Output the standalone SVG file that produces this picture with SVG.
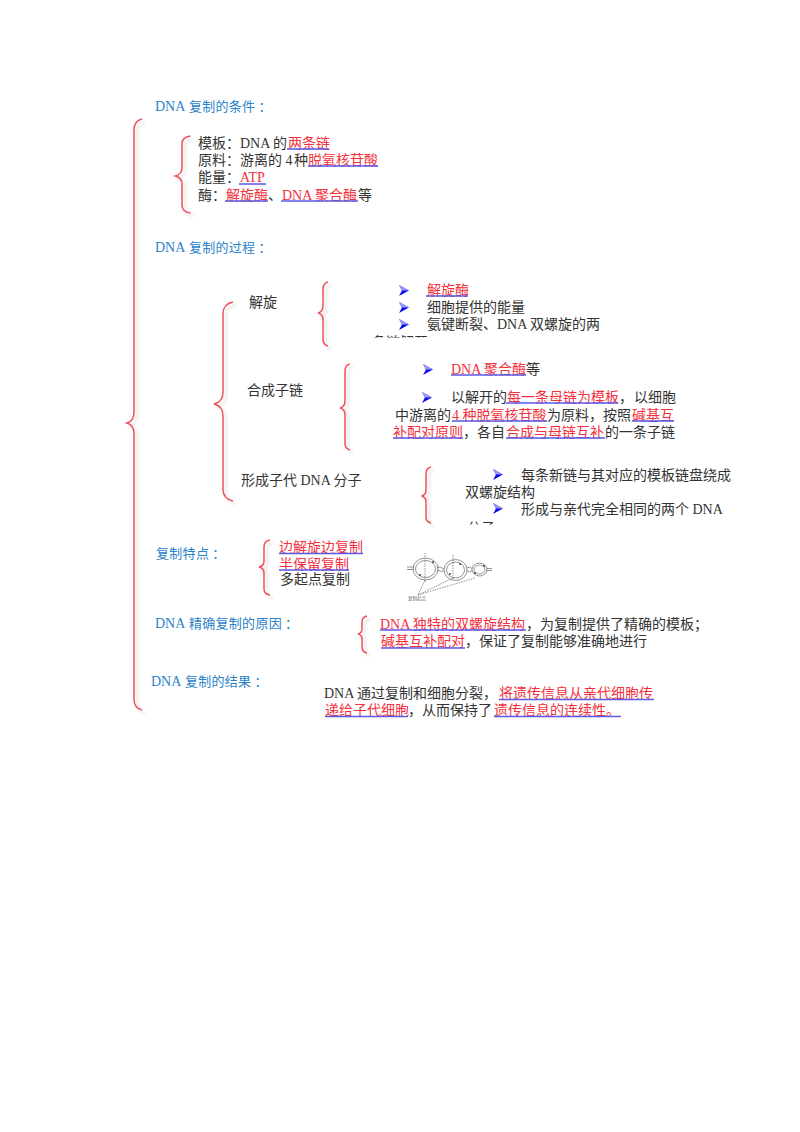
<svg xmlns="http://www.w3.org/2000/svg" xmlns:xlink="http://www.w3.org/1999/xlink" width="800" height="1132" viewBox="0 0 800 1132">
<style>
text{font-family:"Liberation Serif","Noto Sans CJK SC",serif;font-size:14px;fill:#333}
.h{font-size:13px;letter-spacing:.3px;fill:#2b82c9}
.h tspan.l{font-size:14px;letter-spacing:0}
.r{fill:#f4303c}
.k{fill:#333}
.u{stroke:#5a5ae6;stroke-width:1.3;fill:none}
.b{fill:none;stroke:#f0505a;stroke-width:1.5;filter:url(#sh)}
.p path,.p line,.p ellipse{fill:none;stroke:#666;stroke-width:.7}
.p .d{stroke-dasharray:1.5 1}
.p .f{fill:#444;stroke:none}
.p text{font-size:4.5px;fill:#666}
</style>
<defs>
<filter id="sh" x="-50%" y="-10%" width="220%" height="120%"><feDropShadow dx="3" dy="3" stdDeviation="1.8" flood-color="#999" flood-opacity=".35"/></filter>
<symbol id="ar" viewBox="0 0 9 10" overflow="visible"><path d="M0 0L9 5L0 10L2.6 5Z" fill="#0a0af0"/><path d="M0 0L9 5L2.6 5Z" fill="#9a9af5"/></symbol>
<clipPath id="c1"><rect x="360" y="325" width="80" height="12.5"/></clipPath>
<clipPath id="c2"><rect x="455" y="515" width="60" height="9.5"/></clipPath>
</defs>
<rect width="800" height="1132" fill="#fff"/>
<g id="connectors">
<path class="b" d="M142 119Q134 121 134 130V412Q134 421 127 423Q134 425 134 434V699Q134 708 142 710"/>
<path class="b" d="M190.500 136Q182 137 182 144V168Q182 174 175.500 176Q182 178 182 184V205Q182 212 190.500 213"/>
<path class="b" d="M233 302Q223 304 223 314V392Q223 402 214 404Q223 406 223 416V489Q223 499 233 501"/>
<path class="b" d="M328 282Q323 283 323 290V306Q323 312 318 313Q323 314 323 320V339Q323 345 328 346"/>
<path class="b" d="M350 364Q345 365 345 371V401Q345 407 340 408Q345 409 345 415V443Q345 449 350 450"/>
<path class="b" d="M431 467Q426 468 426 474V490Q426 495 421.500 496Q426 497 426 502V517Q426 522 431 523"/>
<path class="b" d="M270 540Q264 541 264 547V561Q264 566 259 567Q264 568 264 573V589Q264 594 270 595"/>
<path class="b" d="M367 616Q362 617 362 622V629Q362 633 358 634Q362 635 362 639V647Q362 652 367 653"/>
</g>
<g id="heading-conditions"><text class="h" x="155" y="111"><tspan class="l">DNA</tspan> 复制的条件<tspan dx="3">：</tspan></text></g>
<g id="conditions">
<text x="198" y="148">模板：<tspan x="240">DNA 的</tspan><tspan class="r" x="288">两条链</tspan></text>
<text x="198" y="165">原料：<tspan x="240">游离的 4 </tspan><tspan x="294">种</tspan><tspan class="r" x="308">脱氧核苷酸</tspan></text>
<text x="198" y="182">能量：<tspan class="r" x="240">ATP</tspan></text>
<text x="198" y="200">酶：<tspan class="r" x="226">解旋酶</tspan><tspan x="268">、</tspan><tspan class="r" x="282">DNA 聚合酶</tspan><tspan x="358">等</tspan></text>
<path class="u" d="M287 149H329M308 166H378M239 184H266M225 201H268M281 201H358"/>
</g>
<g id="heading-process"><text class="h" x="155" y="252"><tspan class="l">DNA</tspan> 复制的过程<tspan dx="3">：</tspan></text></g>
<g id="unwind">
<text x="249" y="307">解旋</text>
<use xlink:href="#ar" href="#ar" x="399" y="285" width="10" height="11"/>
<use xlink:href="#ar" href="#ar" x="399" y="302" width="10" height="11"/>
<use xlink:href="#ar" href="#ar" x="399" y="319" width="10" height="11"/>
<text class="r" x="427" y="295">解旋酶</text>
<text x="427" y="312">细胞提供的能量</text>
<text x="427" y="329">氨键断裂、DNA 双螺旋的两</text>
<text x="372" y="347" clip-path="url(#c1)">条链解开</text>
<path class="u" d="M426 296H468"/>
</g>
<g id="synthesis">
<text x="247" y="395">合成子链</text>
<use xlink:href="#ar" href="#ar" x="423" y="364" width="10" height="11"/>
<use xlink:href="#ar" href="#ar" x="422" y="392" width="10" height="11"/>
<text x="451" y="374"><tspan class="r">DNA 聚合酶</tspan><tspan x="526">等</tspan></text>
<text x="451" y="402">以解开的<tspan class="r" x="507">每一条母链为模板</tspan><tspan x="619">，</tspan><tspan x="634">以细胞</tspan></text>
<text x="395" y="420">中游离的<tspan class="r" x="452">4 种脱氧核苷酸</tspan><tspan x="547">为原料，按照</tspan><tspan class="r" x="632">碱基互</tspan></text>
<text class="r" x="393" y="437">补配对原则<tspan class="k" x="463">，各自</tspan><tspan x="506">合成与母链互补</tspan><tspan class="k" x="605">的一条子链</tspan></text>
<path class="u" d="M451 375H526M506 403H618M452 421H547M632 421H674M393 438H463M506 438H605"/>
</g>
<g id="daughter">
<text x="241" y="485">形成子代 DNA 分子</text>
<use xlink:href="#ar" href="#ar" x="493" y="469" width="10" height="11"/>
<use xlink:href="#ar" href="#ar" x="493" y="503" width="10" height="11"/>
<text x="521" y="480">每条新链与其对应的模板链盘绕成</text>
<text x="465" y="497">双螺旋结构</text>
<text x="521" y="514">形成与亲代完全相同的两个 DNA</text>
<text x="467" y="533" clip-path="url(#c2)">分子</text>
</g>
<g id="features">
<text class="h" x="156" y="558">复制特点<tspan dx="3">：</tspan></text>
<text class="r" x="279" y="552">边解旋边复制</text>
<text class="r" x="279" y="569">半保留复制</text>
<text x="280" y="584">多起点复制</text>
<path class="u" d="M279 553.500H363M279 570H349"/>
</g>
<g id="replication-figure" class="p">
<path d="M407 567H414M407 569.500H414M437 567.500Q440 566 444 569M437 570Q441 572 444 571M467 568Q470 566 472 568.500M467 571Q470 573 472 570.500M487 568.500H492M487 570.500H492"/>
<ellipse cx="425.500" cy="569" rx="12.500" ry="11"/><ellipse cx="425.500" cy="569" rx="10" ry="8.500"/>
<ellipse cx="455.500" cy="570" rx="11.500" ry="10.500"/><ellipse cx="455.500" cy="570" rx="9" ry="8"/>
<ellipse cx="479.500" cy="569.500" rx="7.500" ry="6.500"/><ellipse cx="479.500" cy="569.500" rx="5.500" ry="4.500"/>
<circle class="f" cx="420" cy="575" r="1"/><circle class="f" cx="433" cy="562" r="1"/><circle class="f" cx="450" cy="574" r="1"/><circle class="f" cx="460" cy="564" r="1"/><circle class="f" cx="475" cy="573" r="1"/><circle class="f" cx="484" cy="566" r="1"/>
<path class="d" d="M425 553V582M453 555V580M418 595L425 580M418 595L453 578M418 595L475 578"/>
<text x="408" y="600">复制起点</text>
</g>
<g id="accuracy">
<text class="h" x="155" y="628"><tspan class="l">DNA</tspan> 精确复制的原因<tspan dx="3">：</tspan></text>
<text class="r" x="380" y="629">DNA 独特的双螺旋结构<tspan class="k" x="526">，为复制提供了精确的模板；</tspan></text>
<text class="r" x="381" y="646">碱基互补配对<tspan class="k" x="465">，保证了复制能够准确地进行</tspan></text>
<path class="u" d="M380 630H526M381 648H465"/>
</g>
<g id="result">
<text class="h" x="151" y="686"><tspan class="l">DNA</tspan> 复制的结果<tspan dx="3">：</tspan></text>
<text x="324" y="698">DNA 通过复制和细胞分裂，<tspan class="r" x="499">将遗传信息从亲代细胞传</tspan></text>
<text class="r" x="325" y="715">递给子代细胞<tspan class="k" x="408">，从而保持了</tspan><tspan x="494">遗传信息的连续性。</tspan></text>
<path class="u" d="M499 699.500H654M325 716.500H408M494 716.500H621"/>
</g>
</svg>
